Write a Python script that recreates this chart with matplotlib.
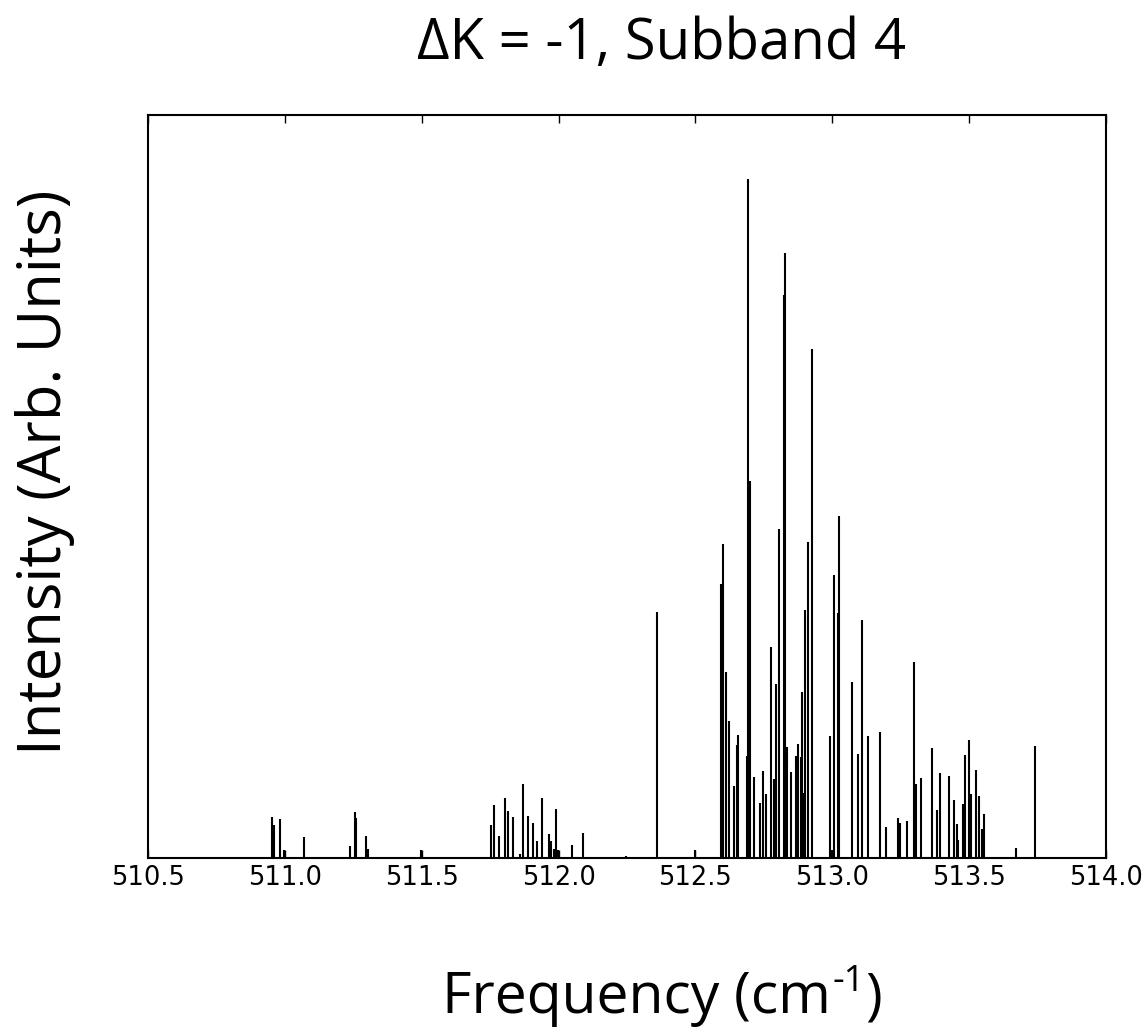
import matplotlib
matplotlib.use("Agg")
import matplotlib.pyplot as plt

# Line positions (cm^-1) and intensities (arbitrary units)
freqs = [
    510.954, 510.959, 510.982, 510.998, 511.070, 511.237, 511.255, 511.261,
    511.298, 511.304, 511.4985,
    511.754, 511.764, 511.782, 511.803, 511.814, 511.835, 511.860, 511.871,
    511.889, 511.908, 511.921, 511.939, 511.964, 511.971, 511.982, 511.991,
    511.997, 512.050, 512.090, 512.245, 512.358, 512.4996,
    512.593, 512.597, 512.601, 512.611, 512.622, 512.642, 512.651, 512.656,
    512.687, 512.691, 512.698, 512.713, 512.736, 512.748, 512.757, 512.777,
    512.787, 512.793, 512.804, 512.823, 512.828, 512.833, 512.848, 512.866,
    512.875, 512.885, 512.890, 512.896, 512.900, 512.913, 512.925,
    512.992, 513.000, 513.007, 513.020, 513.025, 513.073, 513.094, 513.108,
    513.129, 513.176, 513.196, 513.239, 513.247, 513.272, 513.300, 513.307,
    513.324, 513.365, 513.384, 513.392, 513.428, 513.444, 513.455, 513.459,
    513.476, 513.486, 513.498, 513.506, 513.526, 513.535, 513.548, 513.555,
    513.673, 513.739,
]
intensities = [
    41, 33, 39, 8, 21, 12, 46, 40,
    22, 9, 8,
    33, 53, 22, 60, 47, 41, 4, 74,
    42, 35, 17, 60, 24, 17, 9, 49,
    8, 13, 25, 2, 246, 8,
    274, 199, 314, 186, 137, 72, 113, 123,
    102, 679, 377, 81, 55, 87, 64, 211,
    79, 174, 329, 563, 605, 111, 86, 102,
    114, 101, 166, 65, 248, 316, 509,
    122, 8, 283, 245, 342, 176, 104, 238,
    122, 126, 31, 40, 35, 37, 196, 74,
    80, 110, 48, 85, 82, 58, 34, 18,
    54, 103, 118, 64, 88, 62, 29, 44,
    10, 112,
]
xticks = [510.5, 511.0, 511.5, 512.0, 512.5, 513.0, 513.5, 514.0]
xtick_labels = ["510.5", "511.0", "511.5", "512.0", "512.5", "513.0", "513.5", "514.0"]

title = "ΔK = -1, Subband 4"
xlabel_main = "Frequency (cm"
xlabel_sup = "-1"
xlabel_end = ")"
ylabel = "Intensity (Arb. Units)"

fig = plt.figure(figsize=(11.45, 10.34), dpi=100)
ax = fig.add_axes([148/1145, 1-858/1034, (1106-148)/1145, (858-115)/1034])

ax.vlines(freqs, 0, intensities, colors="black", linewidth=1.5)
ax.set_xlim(510.5, 514.0)
ax.set_ylim(0, 743)
ax.set_xticks(xticks)
ax.set_xticklabels(xtick_labels, fontsize=18.5, family="DejaVu Sans")
ax.set_yticks([])
ax.tick_params(axis="x", direction="in", top=True, bottom=True, length=6, width=1, pad=5)
for s in ax.spines.values():
    s.set_linewidth(1.5)

lab_font = ["Open Sans", "DejaVu Sans"]
fig.text(662/1145, 1-45/1034, title, ha="center", va="center", fontsize=40.5, family=lab_font)
fig.text(45/1145, 1-472/1034, ylabel, ha="center", va="center", rotation=90, fontsize=43, family=lab_font)

# x label composed of pieces so the superscript uses a plain hyphen
fs_main, fs_sup = 41, 26
gap_before, gap_after = 2, 0
renderer = fig.canvas.get_renderer()
t1 = fig.text(0, 0, xlabel_main, fontsize=fs_main, family=lab_font, va="baseline")
t2 = fig.text(0, 0, xlabel_sup, fontsize=fs_sup, family=lab_font, va="baseline")
t3 = fig.text(0, 0, xlabel_end, fontsize=fs_main, family=lab_font, va="baseline")
w1 = t1.get_window_extent(renderer).width
w2 = t2.get_window_extent(renderer).width
w3 = t3.get_window_extent(renderer).width
total = w1 + w2 + w3 + gap_before + gap_after
x0 = 662 - total / 2
base_y = 1034 - 1013
t1.set_position((x0 / 1145, base_y / 1034))
t2.set_position(((x0 + w1 + gap_before) / 1145, (base_y + 22) / 1034))
t3.set_position(((x0 + w1 + w2 + gap_before + gap_after) / 1145, base_y / 1034))

fig.savefig("out.png", dpi=100)
